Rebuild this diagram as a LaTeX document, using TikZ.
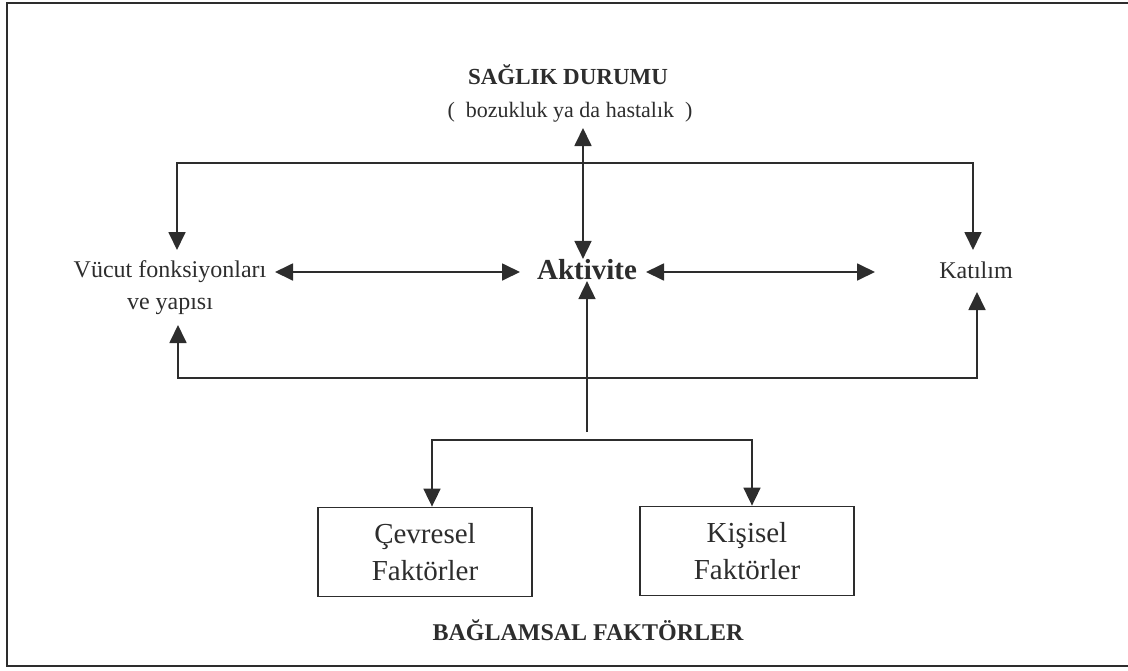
\documentclass[tikz,border=0pt]{standalone}
\usepackage{fontspec}
\setmainfont{Liberation Serif}
\usetikzlibrary{arrows.meta}

\definecolor{ink}{RGB}{45,45,45}

\begin{document}
\begin{tikzpicture}[x=1pt, y=-1pt, line width=1.8pt, color=ink,
    arr/.style={-{Triangle[length=18pt,width=17pt]}},
    dbl/.style={{Triangle[length=18pt,width=17pt]}-{Triangle[length=18pt,width=17pt]}},
    txt/.style={inner sep=0pt, align=center, font=\fontsize{24}{32}\selectfont},
    head/.style={inner sep=0pt, font=\bfseries\fontsize{23}{28}\selectfont},
    factor/.style={draw, line width=1.8pt, minimum width=214pt, minimum height=89pt,
        align=center, font=\fontsize{29}{37}\selectfont}]
    \useasboundingbox (0,0) rectangle (1128,670);

    % Frame
    \draw (1140,3) -- (7,3) -- (7,666) -- (1140,666);

    % Nodes
    \node[head] (saglik) at (568,75) {SAĞLIK DURUMU};
    \node[txt, font=\fontsize{22}{28}\selectfont] (hastalik) at (570,112) {(\ \ bozukluk ya da hastalık\ \ )};
    \node[txt] (vucut) at (170,288) {Vücut fonksiyonları\\ve yapısı};
    \node[inner sep=0pt, font=\bfseries\fontsize{29}{34}\selectfont] (aktivite) at (587,270) {Aktivite};
    \node[txt] (katilim) at (976,270) {Katılım};
    \node[factor] (cevre) at (425,552) {Çevresel\\Faktörler};
    \node[factor] (kisi) at (747,551) {Kişisel\\Faktörler};
    \node[head, font=\bfseries\fontsize{24}{28}\selectfont] (baglam) at (588,630) {BAĞLAMSAL FAKTÖRLER};

    % Connector points
    \coordinate (up) at (583,128);
    \coordinate (topmid) at (583,163);
    \coordinate (vtop) at (177,250);
    \coordinate (ktop) at (973,250);
    \coordinate (vright) at (275,272);
    \coordinate (aleft) at (520,272);
    \coordinate (aright) at (646,272);
    \coordinate (kleft) at (875,272);
    \coordinate (botmid) at (587,378);
    \coordinate (vbot) at (178,325);
    \coordinate (kbot) at (977,292);
    \coordinate (stem) at (587,432);
    \coordinate (split) at (587,440);

    % Edges
    \draw[dbl] (up) -- (aktivite.north -| up);
    \draw[arr] (topmid) -| (vtop);
    \draw[arr] (topmid) -| (ktop);
    \draw[dbl] (vright) -- (aleft);
    \draw[dbl] (aright) -- (kleft);
    \draw[arr] (botmid) -| (vbot);
    \draw[arr] (botmid) -| (kbot);
    \draw[arr] (stem) -- (aktivite.south);
    \draw[arr] (split) -| (cevre.north -| 432,0);
    \draw[arr] (split) -| (kisi.north -| 752,0);
\end{tikzpicture}
\end{document}
